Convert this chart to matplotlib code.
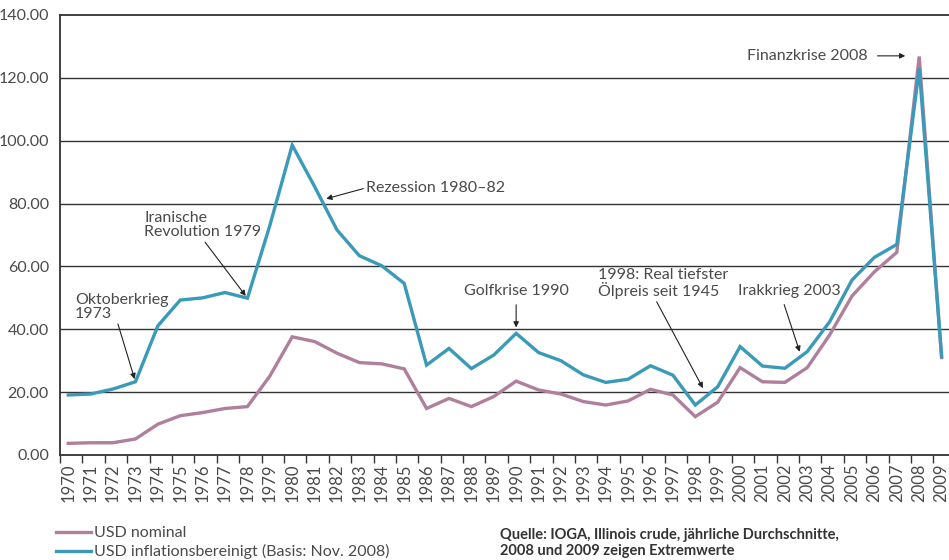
import numpy as np
import matplotlib
matplotlib.use("Agg")
import matplotlib.pyplot as plt
from matplotlib.lines import Line2D

plt.rcParams['font.family'] = ['Lato', 'DejaVu Sans']

# Rohölpreis pro Barrel, jährliche Durchschnitte
years = list(range(1970, 2010))
usd_nominal = [3.7, 3.9, 3.9, 5.1, 9.8, 12.5, 13.5, 14.8, 15.4, 25.1,
               37.6, 36.1, 32.4, 29.4, 29.0, 27.4, 14.8, 18.0, 15.4, 18.6,
               23.5, 20.7, 19.4, 17.0, 15.9, 17.2, 20.9, 19.1, 12.2, 16.8,
               27.8, 23.3, 23.1, 27.8, 38.2, 50.6, 58.3, 64.5, 126.8, 31.0]
usd_real = [19.1, 19.4, 21.0, 23.3, 41.1, 49.3, 50.0, 51.7, 49.9, 73.0,
            98.6, 85.4, 71.6, 63.4, 60.2, 54.6, 28.6, 33.9, 27.5, 31.8,
            38.7, 32.6, 30.0, 25.5, 23.1, 24.1, 28.4, 25.4, 15.9, 21.7,
            34.5, 28.3, 27.6, 32.9, 42.4, 55.7, 62.9, 67.0, 123.0, 31.3]
y_ticks = [0, 20, 40, 60, 80, 100, 120, 140]

col_nom = '#b07f9c'
col_real = '#3a9ab8'
txt = '#4a4a4a'

fig = plt.figure(figsize=(9.49, 5.6), dpi=100)
ax = fig.add_axes([60 / 949, 105 / 560, 889 / 949, 440 / 560])

x = np.arange(len(years))
ax.plot(x, usd_nominal, color=col_nom, lw=2.4, solid_joinstyle='miter', zorder=3)
ax.plot(x, usd_real, color=col_real, lw=2.4, solid_joinstyle='miter', zorder=4)

ax.set_xlim(-0.37, 39.33)
ax.set_ylim(0, 140)
ax.set_yticks(y_ticks)
ax.set_yticklabels([f'{v:.2f}' for v in y_ticks], fontsize=11.5, color=txt)
for v in y_ticks[1:-1]:
    ax.axhline(v, color='#333333', lw=1.0, zorder=1)

ax.set_xticks(x)
ax.set_xticklabels([str(y) for y in years], rotation=90, fontsize=12, color=txt)
ax.set_xticks(x - 0.37, minor=True)
ax.tick_params(axis='x', which='major', length=0, pad=6)
ax.tick_params(axis='x', which='minor', length=6, width=1, color='#333333')
ax.tick_params(axis='y', length=0, pad=8)

ax.spines['right'].set_visible(False)
for s in ['left', 'top', 'bottom']:
    ax.spines[s].set_color('#333333')
    ax.spines[s].set_linewidth(1.3)

arrow = dict(arrowstyle='-|>', color='#222222', lw=0.8, mutation_scale=8,
             shrinkA=0, shrinkB=2)
fs = 11.5

def idx(year):
    return years.index(year)

ax.annotate('Oktoberkrieg\n1973', xy=(idx(1973), usd_real[idx(1973)]),
            xytext=(0.3, 51.5), fontsize=fs, color=txt, va='top', ha='left',
            linespacing=1.0, arrowprops=dict(arrow, relpos=(0.45, 0)))
ax.annotate('Iranische\nRevolution 1979', xy=(idx(1978), usd_real[idx(1978)]),
            xytext=(3.4, 77.5), fontsize=fs, color=txt, va='top', ha='left',
            linespacing=1.0, arrowprops=dict(arrow, relpos=(0.5, 0)))
ax.annotate('Rezession 1980–82', xy=(11.4, 81.3),
            xytext=(13.3, 85.0), fontsize=fs, color=txt, va='center', ha='left',
            arrowprops=dict(arrow, relpos=(0, 0.5)))
ax.annotate('Golfkrise 1990', xy=(idx(1990), usd_real[idx(1990)] + 1.0),
            xytext=(idx(1990), 50.0), fontsize=fs, color=txt, va='bottom',
            ha='center', arrowprops=dict(arrow, relpos=(0.5, 0), shrinkA=3))
ax.annotate('1998: Real tiefster\nÖlpreis seit 1945', xy=(28.4, 20.5),
            xytext=(23.65, 59.5), fontsize=fs, color=txt, va='top', ha='left',
            linespacing=1.0, arrowprops=dict(arrow, relpos=(0.44, 0)))
ax.annotate('Irakkrieg 2003', xy=(32.7, 32.0),
            xytext=(29.9, 50.0), fontsize=fs, color=txt, va='bottom', ha='left',
            arrowprops=dict(arrow, relpos=(0.43, 0), shrinkA=3))
ax.annotate('Finanzkrise 2008', xy=(37.5, 127.0),
            xytext=(35.7, 127.0), fontsize=fs, color=txt, va='center',
            ha='right', arrowprops=dict(arrow, relpos=(1, 0.5), shrinkA=5))

handles = [Line2D([], [], color=col_nom, lw=2.4),
           Line2D([], [], color=col_real, lw=2.4)]
fig.legend(handles, ['USD nominal', 'USD inflationsbereinigt (Basis: Nov. 2008)'],
           loc='upper left', bbox_to_anchor=(56 / 949, 1 - 526 / 560),
           frameon=False, fontsize=11.5, handlelength=2.2, handletextpad=0.2,
           labelspacing=0.25, borderpad=0, borderaxespad=0, labelcolor=txt)

fig.text(500 / 949, 1 - 543 / 560,
         'Quelle: IOGA, Illinois crude, jährliche Durchschnitte,\n'
         '2008 und 2009 zeigen Extremwerte',
         fontsize=10.5, fontweight='bold', color='#333333', va='center',
         ha='left', linespacing=1.25)

fig.savefig('out.png', dpi=100)
